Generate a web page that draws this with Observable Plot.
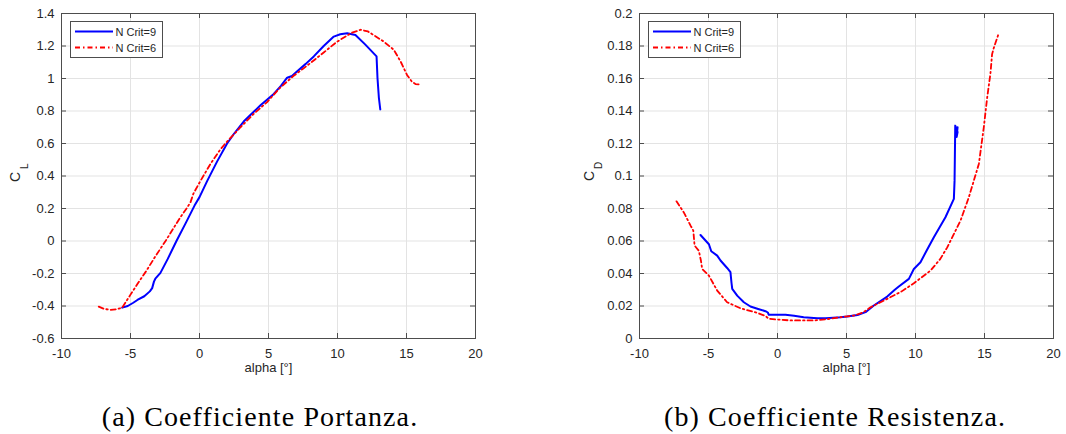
<!DOCTYPE html>
<html><head><meta charset="utf-8">
<script src="https://cdn.jsdelivr.net/npm/d3@7"></script>
<script src="https://cdn.jsdelivr.net/npm/@observablehq/plot@0.6"></script>
<style>
body{margin:0;background:#fff}
#wrap{position:relative;width:1066px;height:434px;overflow:hidden;background:#fff}
#wrap > svg{position:absolute}
</style>
</head><body><div id="wrap"></div>
<script>
// ---------- data ----------
const seriesNames = ["N Crit=9", "N Crit=6"];
const captions = ["(a) Coefficiente Portanza.", "(b) Coefficiente Resistenza."];
const xLabel = "alpha [°]";
const xTicks = [-10, -5, 0, 5, 10, 15, 20];
const xTickLabels = ["-10", "-5", "0", "5", "10", "15", "20"];
const clTicks = [-0.6, -0.4, -0.2, 0, 0.2, 0.4, 0.6, 0.8, 1, 1.2, 1.4];
const clTickLabels = ["-0.6", "-0.4", "-0.2", "0", "0.2", "0.4", "0.6", "0.8", "1", "1.2", "1.4"];
const cdTicks = [0, 0.02, 0.04, 0.06, 0.08, 0.1, 0.12, 0.14, 0.16, 0.18, 0.2];
const cdTickLabels = ["0", "0.02", "0.04", "0.06", "0.08", "0.1", "0.12", "0.14", "0.16", "0.18", "0.2"];

// C_L, N Crit = 9
const clAlpha9 = [-5.6, -5.2, -4.8, -4.5, -4.0, -3.6, -3.43, -3.3, -3.2, -2.83, -2.3, -1.67, -1.0, -0.36, 0.0, 0.56, 1.28, 2.0, 2.5, 3.2, 3.93, 4.42, 5.38, 5.9, 6.35, 6.7, 7.08, 7.7, 8.28, 9.0, 9.73, 10.2, 10.7, 11.3, 12.0, 12.83, 12.9, 13.0, 13.1];
const cl9 = [-0.41, -0.40, -0.38, -0.363, -0.34, -0.31, -0.29, -0.25, -0.232, -0.196, -0.11, 0.0, 0.11, 0.218, 0.27, 0.37, 0.49, 0.6, 0.66, 0.735, 0.795, 0.835, 0.905, 0.955, 1.005, 1.015, 1.044, 1.09, 1.136, 1.20, 1.258, 1.272, 1.278, 1.268, 1.21, 1.136, 1.0, 0.88, 0.81];
// C_L, N Crit = 6
const clAlpha6 = [-7.3, -6.9, -6.45, -6.0, -5.6, -5.0, -4.5, -3.9, -3.2, -2.46, -1.8, -1.38, -0.9, -0.65, -0.45, 0.07, 0.8, 1.52, 2.0, 2.97, 3.9, 4.9, 5.8, 6.8, 7.5, 8.04, 9.0, 9.98, 11.0, 11.67, 12.2, 12.6, 13.3, 14.08, 14.6, 15.05, 15.4, 15.65, 16.0];
const cl6 = [-0.404, -0.418, -0.424, -0.42, -0.41, -0.33, -0.265, -0.19, -0.095, 0.0, 0.09, 0.147, 0.205, 0.239, 0.29, 0.37, 0.475, 0.565, 0.612, 0.70, 0.78, 0.855, 0.94, 1.015, 1.06, 1.095, 1.16, 1.227, 1.28, 1.30, 1.29, 1.268, 1.23, 1.177, 1.10, 1.02, 0.98, 0.966, 0.963];
// C_D, N Crit = 9
const cdAlpha9 = [-5.58, -4.97, -4.8, -4.37, -4.13, -3.65, -3.41, -3.33, -3.28, -2.92, -2.44, -1.96, -1.4, -0.87, -0.7, -0.63, 0.58, 1.2, 1.9, 2.88, 3.5, 4.57, 5.05, 5.8, 6.38, 6.98, 7.95, 8.5, 8.79, 9.52, 9.88, 10.36, 10.8, 11.33, 12.17, 12.78, 12.83, 12.85, 12.88, 13.05, 12.98, 13.05];
const cd9 = [0.0637, 0.058, 0.0537, 0.051, 0.048, 0.0434, 0.0408, 0.034, 0.0305, 0.0264, 0.0223, 0.0197, 0.0182, 0.0168, 0.016, 0.0146, 0.0146, 0.014, 0.0131, 0.0125, 0.0125, 0.0131, 0.0135, 0.0145, 0.0162, 0.0203, 0.0258, 0.030, 0.032, 0.0367, 0.0428, 0.0469, 0.054, 0.0623, 0.0746, 0.0859, 0.097, 0.11, 0.131, 0.127, 0.124, 0.13];
// C_D, N Crit = 6
const cdAlpha6 = [-7.32, -6.79, -6.3, -6.1, -6.01, -5.7, -5.55, -5.46, -4.97, -4.37, -3.65, -2.68, -1.47, -0.9, -0.63, 0.94, 2.63, 3.5, 4.57, 5.53, 6.2, 6.74, 7.95, 9.0, 9.88, 11.09, 11.8, 12.3, 13.26, 13.86, 14.59, 14.95, 15.19, 15.43, 15.55, 15.68, 16.04];
const cd6 = [0.0844, 0.0776, 0.0695, 0.0664, 0.0572, 0.054, 0.048, 0.0428, 0.0387, 0.0295, 0.0223, 0.0186, 0.0158, 0.014, 0.0121, 0.0111, 0.0111, 0.0118, 0.0131, 0.0141, 0.016, 0.0192, 0.0244, 0.029, 0.034, 0.0418, 0.049, 0.0561, 0.0725, 0.0868, 0.1074, 0.130, 0.148, 0.163, 0.175, 0.179, 0.188];

// ---------- drawing ----------
const W = 533, H = 380, MT = 13, MB = 42;
const fontSans = "'Liberation Sans', Arial, Helvetica, sans-serif";
const gridColor = "#e3e3e3", axisColor = "#4d4d4d", textColor = "#262626";
const colors = ["#0000ff", "#ff0000"];
const widths = [2, 1.8];
const dashes = [null, "5,3,1.5,3"];

function toRows(a, v) { return a.map((x, i) => ({x, y: v[i]})); }

function makePlot({ml, mr, yDomain, yTicks, yLabels, sub, subDx, cDx, cDy, subDy, series}) {
  const fw = W - ml - mr, fh = H - MT - MB;
  const xMap = new Map(xTicks.map((t, i) => [t, xTickLabels[i]]));
  const yMap = new Map(yTicks.map((t, i) => [t, yLabels[i]]));
  return Plot.plot({
    width: W, height: H, marginLeft: ml, marginRight: mr, marginTop: MT, marginBottom: MB,
    style: {fontFamily: fontSans, fontSize: "13px", color: textColor, background: "transparent"},
    x: {domain: [-10, 20], ticks: xTicks, tickFormat: d => xMap.get(d), tickSize: 0, tickPadding: 10, label: null},
    y: {domain: yDomain, ticks: yTicks, tickFormat: d => yMap.get(d), tickSize: 0, tickPadding: 7, label: null},
    marks: [
      Plot.gridX(xTicks, {stroke: gridColor, strokeOpacity: 1}),
      Plot.gridY(yTicks, {stroke: gridColor, strokeOpacity: 1}),
      Plot.tickX(xTicks, {x: d => d, insetTop: fh - 5, stroke: axisColor}),
      Plot.tickX(xTicks, {x: d => d, insetBottom: fh - 5, stroke: axisColor}),
      Plot.tickY(yTicks, {y: d => d, insetRight: fw - 5, stroke: axisColor}),
      Plot.tickY(yTicks, {y: d => d, insetLeft: fw - 5, stroke: axisColor}),
      Plot.frame({stroke: axisColor}),
      ...series.map((s, k) => Plot.line(toRows(s[0], s[1]), {x: "x", y: "y", stroke: colors[k], strokeWidth: widths[k], strokeDasharray: dashes[k], strokeLinejoin: "round"})),
      Plot.text([xLabel], {text: d => d, frameAnchor: "bottom", dy: 33, fontSize: 13, fill: textColor}),
      Plot.text(["C"], {text: d => d, frameAnchor: "left", rotate: -90, dx: cDx, dy: cDy, fontSize: 14, fill: textColor}),
      Plot.text([sub], {text: d => d, frameAnchor: "left", rotate: -90, dx: subDx, dy: subDy, fontSize: 10, fill: textColor})
    ]
  });
}

const wrap = document.getElementById("wrap");
const p1 = makePlot({ml: 61, mr: 58, yDomain: [-0.6, 1.4], yTicks: clTicks, yLabels: clTickLabels, sub: "L",
  cDx: -46, cDy: 6, subDx: -37, subDy: -7, series: [[clAlpha9, cl9], [clAlpha6, cl6]]});
p1.style.left = "0px"; p1.style.top = "0px";
wrap.appendChild(p1);
const p2 = makePlot({ml: 106, mr: 13, yDomain: [0, 0.2], yTicks: cdTicks, yLabels: cdTickLabels, sub: "D",
  cDx: -50, cDy: 5, subDx: -41, subDy: -7, series: [[cdAlpha9, cd9], [cdAlpha6, cd6]]});
p2.style.left = W + "px"; p2.style.top = "0px";
wrap.appendChild(p2);

// overlay: legends and captions
const ns = "http://www.w3.org/2000/svg";
const ov = document.createElementNS(ns, "svg");
ov.setAttribute("width", 1066); ov.setAttribute("height", 434);
ov.style.left = "0px"; ov.style.top = "0px";
wrap.appendChild(ov);
function el(tag, attrs, text) {
  const e = document.createElementNS(ns, tag);
  for (const k in attrs) e.setAttribute(k, attrs[k]);
  if (text != null) e.textContent = text;
  ov.appendChild(e); return e;
}
[70, 648].forEach(lx => {
  el("rect", {x: lx + 0.5, y: 21.5, width: 92, height: 36, fill: "#fff", stroke: axisColor, "stroke-width": 1});
  seriesNames.forEach((name, k) => {
    const y = 31.5 + k * 16;
    const a = {x1: lx + 5, x2: lx + 43, y1: y, y2: y, stroke: colors[k], "stroke-width": widths[k]};
    if (dashes[k]) a["stroke-dasharray"] = dashes[k];
    el("line", a);
    el("text", {x: lx + 45.5, y: y + 4, "font-family": fontSans, "font-size": 11, fill: textColor}, name);
  });
});
[[260, captions[0]], [835, captions[1]]].forEach(([cx, t]) => {
  el("text", {x: cx, y: 426, "text-anchor": "middle", "font-family": "'Liberation Serif', 'Times New Roman', serif", "font-size": 28, "letter-spacing": 1.1, fill: "#000"}, t);
});
</script>
</body></html>
